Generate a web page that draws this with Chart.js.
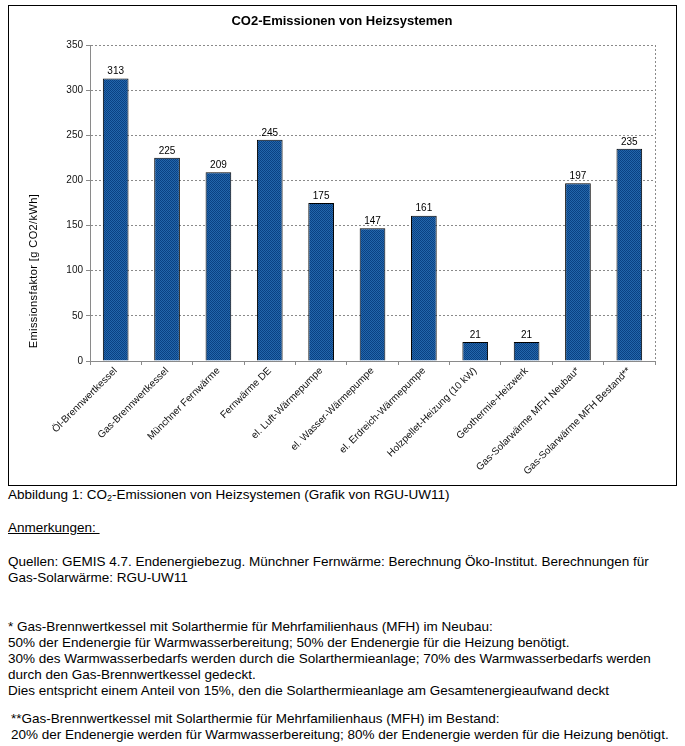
<!DOCTYPE html>
<html><head><meta charset="utf-8">
<script src="https://cdn.jsdelivr.net/npm/chart.js@4"></script>
<style>
html,body{margin:0;padding:0;background:#fff;}
body{width:685px;height:746px;position:relative;font-family:"Liberation Sans",Arial,sans-serif;color:#000;}
#box{position:absolute;left:8px;top:5px;width:669px;height:481px;border:1.5px solid #000;box-sizing:border-box;}
#box canvas{display:block;}
.t{position:absolute;left:8px;font-size:13.5px;line-height:16px;white-space:nowrap;}
sub{font-size:9px;line-height:0;vertical-align:-2px;}
</style></head><body>
<div id="box"><canvas id="c" width="666" height="478"></canvas></div>
<div class="t" style="top:487px">Abbildung 1: CO<sub>2</sub>-Emissionen von Heizsystemen (Grafik von RGU-UW11)</div>
<div class="t" style="top:520px;text-decoration:underline">Anmerkungen:&nbsp;</div>
<div class="t" style="top:554px">Quellen: GEMIS 4.7. Endenergiebezug. Münchner Fernwärme: Berechnung Öko-Institut. Berechnungen für<br>Gas-Solarwärme: RGU-UW11</div>
<div class="t" style="top:619px">* Gas-Brennwertkessel mit Solarthermie für Mehrfamilienhaus (MFH) im Neubau:<br>50% der Endenergie für Warmwasserbereitung; 50% der Endenergie für die Heizung benötigt.<br>30% des Warmwasserbedarfs werden durch die Solarthermieanlage; 70% des Warmwasserbedarfs werden<br>durch den Gas-Brennwertkessel gedeckt.<br>Dies entspricht einem Anteil von 15%, den die Solarthermieanlage am Gesamtenergieaufwand deckt</div>
<div class="t" style="top:711px;left:11px">**Gas-Brennwertkessel mit Solarthermie für Mehrfamilienhaus (MFH) im Bestand:<br>20% der Endenergie werden für Warmwasserbereitung; 80% der Endenergie werden für die Heizung benötigt.</div>
<script>
const categories = ["Öl-Brennwertkessel","Gas-Brennwertkessel","Münchner Fernwärme","Fernwärme DE","el. Luft-Wärmepumpe","el. Wasser-Wärmepumpe","el. Erdreich-Wärmepumpe","Holzpellet-Heizung (10 kW)","Geothermie-Heizwerk","Gas-Solarwärme MFH Neubau*","Gas-Solarwärme MFH Bestand**"];
const emissions = [313,225,209,245,175,147,161,21,21,197,235];
const chartTitle = "CO2-Emissionen von Heizsystemen";
const yAxisTitle = "Emissionsfaktor [g CO2/kWh]";

const FONT = "'Liberation Sans', Arial, sans-serif";
const pc = document.createElement('canvas'); pc.width = 2; pc.height = 2;
const px = pc.getContext('2d');
px.fillStyle = '#0a4182'; px.fillRect(0,0,2,2);
px.fillStyle = '#2366ab'; px.fillRect(0,0,1,1); px.fillRect(1,1,1,1);
const c = document.getElementById('c');
const pattern = c.getContext('2d').createPattern(pc,'repeat');

const deco = {
  id:'deco',
  afterDraw(chart){
    const ctx = chart.ctx, a = chart.chartArea;
    ctx.save();
    ctx.strokeStyle = '#8a8a8a'; ctx.lineWidth = 1; ctx.setLineDash([2,2]);
    ctx.beginPath(); ctx.moveTo(Math.round(a.right)+0.5, a.top); ctx.lineTo(Math.round(a.right)+0.5, a.bottom); ctx.stroke();
    ctx.setLineDash([]);
    ctx.fillStyle = '#000';
    ctx.font = 'bold 13px ' + FONT; ctx.textAlign = 'center'; ctx.textBaseline = 'middle';
    ctx.fillText(chartTitle, 333, 15);
    ctx.font = '10px ' + FONT; ctx.textBaseline = 'bottom';
    const meta = chart.getDatasetMeta(0);
    meta.data.forEach((b,i)=>{ ctx.fillText(String(emissions[i]), b.x, b.y - 2); });
    ctx.translate(25, 265); ctx.rotate(-Math.PI/2);
    ctx.font = '11px ' + FONT; ctx.textBaseline = 'middle'; ctx.textAlign = 'center';
    if ('letterSpacing' in ctx) ctx.letterSpacing = '0.4px';
    ctx.fillText(yAxisTitle, 0, 0);
    ctx.restore();
  }
};

new Chart(c, {
  type:'bar',
  data:{labels:categories, datasets:[{data:emissions, backgroundColor:pattern, borderColor:'#000', borderWidth:1, barPercentage:0.5, categoryPercentage:1}]},
  options:{
    responsive:false, animation:false, devicePixelRatio:1,
    layout:{padding:{top:39,right:20,left:0,bottom:0}},
    plugins:{legend:{display:false}, tooltip:{enabled:false}, title:{display:false}},
    scales:{
      x:{
        afterFit(s){ s.height = 123; },
        grid:{offset:true, drawOnChartArea:false, drawTicks:true, tickLength:4, color:'#8a8a8a'},
        border:{display:true, color:'#8a8a8a', dash:[2,2]},
        ticks:{maxRotation:45, minRotation:45, autoSkip:false, color:'#111', font:{family:FONT, size:10}, padding:0}
      },
      y:{
        min:0, max:350,
        afterFit(s){ s.width = 81; },
        grid:{color:'#8a8a8a', tickLength:4},
        border:{display:true, color:'#8a8a8a', dash:[2,2]},
        ticks:{stepSize:50, color:'#111', font:{family:FONT, size:10}, padding:3}
      }
    }
  },
  plugins:[deco]
});
</script>
</body></html>
